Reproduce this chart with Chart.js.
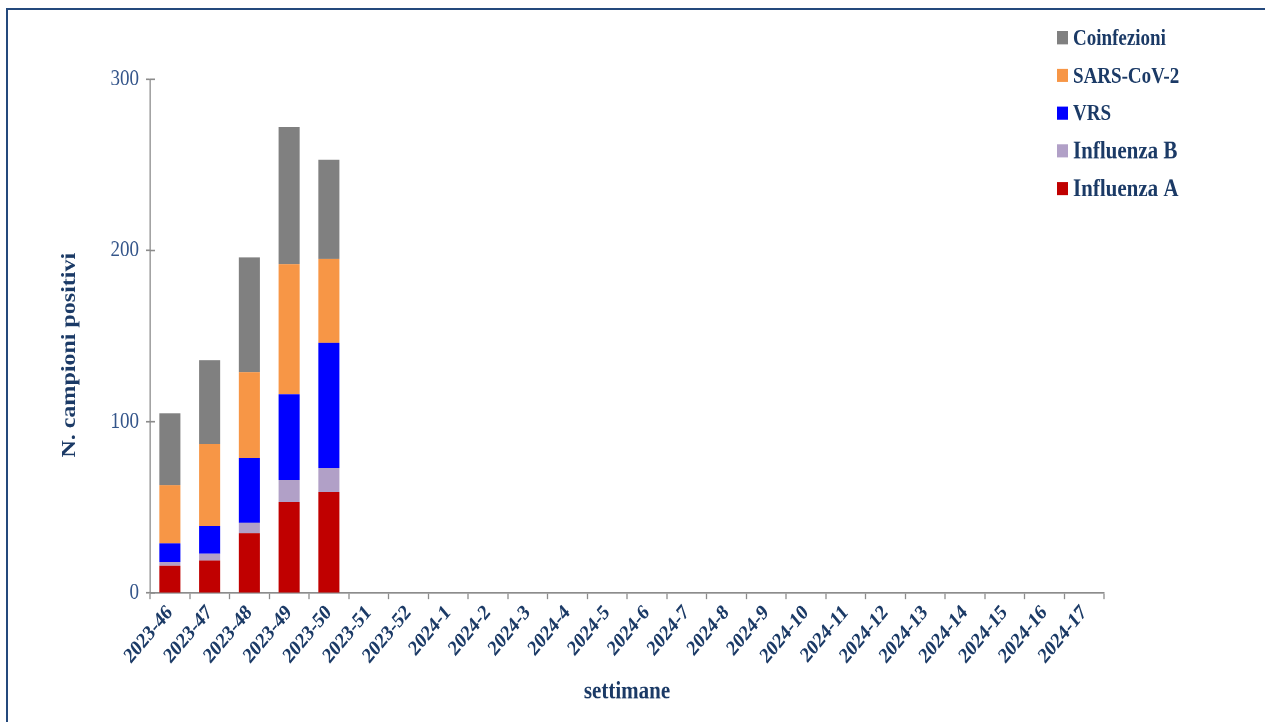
<!DOCTYPE html>
<html>
<head>
<meta charset="utf-8">
<script src="https://cdn.jsdelivr.net/npm/chart.js@4.4.1/dist/chart.umd.min.js"></script>
<style>
  html, body { margin: 0; padding: 0; background: #fff; width: 1265px; height: 722px; overflow: hidden; }
  #frame { position: absolute; left: 6px; top: 8px; width: 1400px; height: 900px;
           border-left: 2px solid #24497c; border-top: 2px solid #24497c; }
  #wrap { position: absolute; left: 0; top: 0; width: 1265px; height: 602px;
          transform: scaleY(1.2); transform-origin: 0 0; }
  canvas { display: block; }
</style>
</head>
<body>
<div id="frame"></div>
<div id="wrap"><canvas id="c" width="1265" height="602"></canvas></div>
<script>
// Weekly positive samples by pathogen
const weeks = ['2023-46', '2023-47', '2023-48', '2023-49', '2023-50', '2023-51', '2023-52',
  '2024-1', '2024-2', '2024-3', '2024-4', '2024-5', '2024-6', '2024-7', '2024-8', '2024-9',
  '2024-10', '2024-11', '2024-12', '2024-13', '2024-14', '2024-15', '2024-16', '2024-17'];
const influenzaA  = [16, 19, 35, 53, 59];
const influenzaB  = [2, 4, 6, 13, 14];
const vrs         = [11, 16, 38, 50, 73];
const sarsCov2    = [34, 48, 50, 76, 49];
const coinfezioni = [42, 49, 67, 80, 58];
const yTicks = [0, 100, 200, 300];
const yTitle = 'N. campioni positivi';

const SERIF = "'Liberation Serif', 'Times New Roman', serif";
const NAVY = '#1b3a66';
const AXIS = '#8c8c8c';

// Extra drawing: inner stubs on the value axis, the value-axis title and the legend
const extras = {
  id: 'extras',
  afterDraw(chart, args, o) {
    const { ctx } = chart;
    const y = chart.scales.y;
    ctx.save();
    ctx.strokeStyle = AXIS;
    ctx.lineWidth = 1.3;
    y.ticks.forEach(t => {
      const py = y.getPixelForValue(t.value);
      ctx.beginPath();
      ctx.moveTo(y.right, py);
      ctx.lineTo(y.right + 5, py);
      ctx.stroke();
    });

    ctx.save();
    ctx.translate(o.titleX, o.titleY);
    ctx.rotate(-Math.PI / 2);
    ctx.font = 'bold ' + o.titleSize + 'px ' + SERIF;
    ctx.fillStyle = NAVY;
    ctx.textAlign = 'center';
    ctx.textBaseline = 'middle';
    ctx.fillText(yTitle, 0, 0);
    ctx.restore();

    const items = chart.data.datasets.slice().reverse();
    items.forEach((ds, k) => {
      const cy = o.top + k * o.step;
      ctx.fillStyle = ds.backgroundColor;
      ctx.fillRect(o.x, cy - o.box / 2, o.box, o.box);
      ctx.font = 'bold ' + o.sizes[k] + 'px ' + SERIF;
      ctx.fillStyle = NAVY;
      ctx.textBaseline = 'middle';
      ctx.textAlign = 'left';
      ctx.fillText(ds.label, o.x + 16, cy + 1);
    });
    ctx.restore();
  }
};

new Chart(document.getElementById('c'), {
  type: 'bar',
  data: {
    labels: weeks,
    datasets: [
      { label: 'Influenza A', data: influenzaA, backgroundColor: '#c00000' },
      { label: 'Influenza B', data: influenzaB, backgroundColor: '#b1a0c7' },
      { label: 'VRS', data: vrs, backgroundColor: '#0000ff' },
      { label: 'SARS-CoV-2', data: sarsCov2, backgroundColor: '#f79646' },
      { label: 'Coinfezioni', data: coinfezioni, backgroundColor: '#808080' }
    ]
  },
  options: {
    responsive: false,
    devicePixelRatio: 2,
    animation: false,
    layout: { padding: { left: 0, top: 66, right: 161, bottom: 0 } },
    datasets: { bar: { barPercentage: 0.53, categoryPercentage: 1 } },
    plugins: {
      legend: { display: false },
      tooltip: { enabled: false },
      extras: {
        x: 1057, top: 31.5, step: 31.4, box: 11, sizes: [19, 19, 19, 21, 21],
        titleX: 70, titleY: 296, titleSize: 20
      }
    },
    scales: {
      x: {
        stacked: true,
        afterFit: s => { s.height = 107.8; },
        grid: { display: true, drawOnChartArea: false, offset: true, tickLength: 5, color: AXIS, tickWidth: 1.3 },
        border: { display: true, color: AXIS, width: 1.3 },
        ticks: {
          autoSkip: false, minRotation: 45, maxRotation: 45, padding: 1,
          color: NAVY, font: { family: SERIF, size: 18, weight: 'bold' }
        },
        title: {
          display: true, text: 'settimane', color: NAVY,
          font: { family: SERIF, size: 21, weight: 'bold' },
          padding: { top: 0, bottom: 13 }
        }
      },
      y: {
        stacked: true,
        min: 0, max: 300,
        afterFit: s => { s.width = 150; },
        afterBuildTicks: s => { s.ticks = yTicks.map(v => ({ value: v })); },
        grid: { display: true, drawOnChartArea: false, tickLength: 4, color: AXIS, tickWidth: 1.3 },
        border: { display: true, color: AXIS, width: 1.3 },
        ticks: { padding: 7, color: '#34558a', font: { family: SERIF, size: 19 } },
        title: { display: false }
      }
    }
  },
  plugins: [extras]
});
</script>
</body>
</html>
